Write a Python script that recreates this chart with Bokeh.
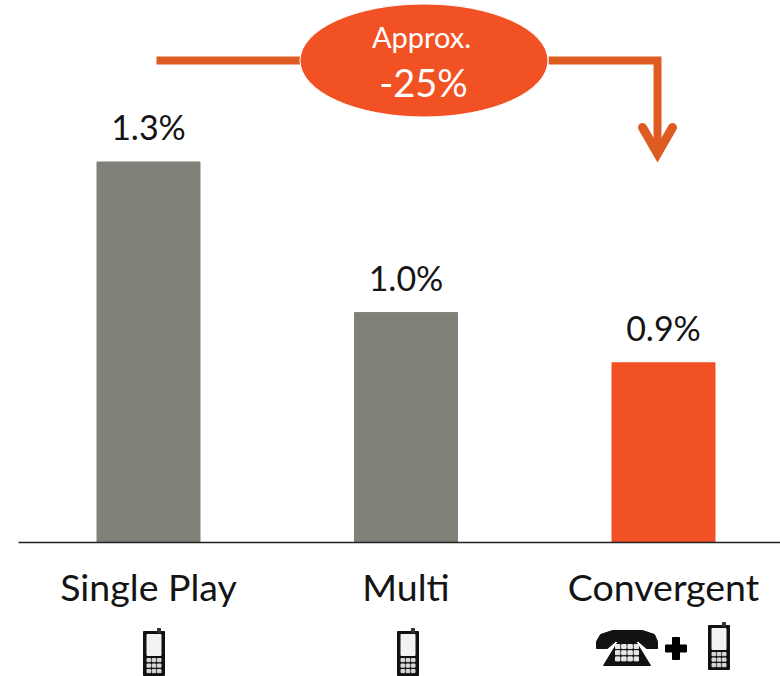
from bokeh.embed import file_html
from bokeh.resources import INLINE
from bokeh.plotting import figure
from bokeh.models import Range1d, ColumnDataSource
from bokeh.core.properties import value

# Series shown in the chart
categories = ["Single Play", "Multi", "Convergent"]
rates = [1.3, 1.0, 0.9]
rate_labels = ["1.3%", "1.0%", "0.9%"]
bar_colors = ["#808279", "#808279", "#F15123"]

FONT = value("Lato")
ORANGE = "#F15123"
LINE_ORANGE = "#DE5C22"
INK = "#141414"

W, H = 780, 676
BASE_PX = 542          # baseline row on the page
UNIT_X = 257.5         # pixels between neighbouring bars
FIRST_X = 148          # centre of the first bar
UNIT_Y = 502           # pixels per percentage point
BASE_VALUE = 0.542     # value sitting on the baseline (the bars use a truncated scale)

p = figure(
    width=W, height=H, output_backend="svg", toolbar_location=None,
    x_range=Range1d(-FIRST_X / UNIT_X, (W - FIRST_X) / UNIT_X),
    y_range=Range1d(BASE_VALUE - (H - BASE_PX) / UNIT_Y, BASE_VALUE + BASE_PX / UNIT_Y),
    min_border=0, min_border_left=0, min_border_right=0, min_border_top=0, min_border_bottom=0,
    x_axis_type=None, y_axis_type=None, outline_line_color=None,
)
p.grid.visible = False
p.background_fill_color = "white"

# Page-pixel scales for the decoration layer
p.extra_x_ranges["px"] = Range1d(0, W)
p.extra_y_ranges["px"] = Range1d(H, 0)
PX = dict(x_range_name="px", y_range_name="px")

xs = list(range(len(categories)))
src = ColumnDataSource(dict(x=xs, rate=rates, color=bar_colors, label=rate_labels, cat=categories,
                            base=[BASE_VALUE] * 3))

p.vbar(x="x", top="rate", bottom="base", width=103 / UNIT_X, color="color", source=src)
p.text(x="x", y="rate", text="label", source=src, text_font=FONT, text_font_size="34px",
       text_color=INK, text_align="center", text_baseline="middle", y_offset=-35)
p.text(x="x", y=BASE_VALUE, text="cat", source=src, text_font=FONT, text_font_size="37.5px",
       text_color=INK, text_align="center", text_baseline="middle", y_offset=44)

# Baseline
p.segment(18, BASE_PX, W, BASE_PX, line_color="#222222", line_width=1.3, **PX)

# Bracket with the arrow pointing at the convergent bar
p.line([156, 300], [60, 60], line_color=LINE_ORANGE, line_width=8, **PX)
p.line([548, 657, 657], [60, 60, 150], line_color=LINE_ORANGE, line_width=8, line_join="miter", **PX)
p.line([642, 657, 672], [127, 153, 127], line_color=LINE_ORANGE, line_width=9,
       line_cap="round", line_join="miter", **PX)

p.ellipse([423.5], [60], width=248, height=113, fill_color=ORANGE, line_color="white", line_width=1, **PX)
p.text([421], [36], text=["Approx."], text_font=FONT, text_font_size="29px", text_color="white",
       text_align="center", text_baseline="middle", **PX)
p.text([423], [81], text=["-25%"], text_font=FONT, text_font_size="38px", text_color="white",
       text_align="center", text_baseline="middle", **PX)


def handset(left, top):
    """Small mobile handset icon: body, screen and a 3x3 keypad."""
    p.quad(left=[left], right=[left + 21], top=[top + 3], bottom=[top + 47], color="#111111", **PX)
    p.quad(left=[left + 14], right=[left + 17], top=[top], bottom=[top + 4], color="#333333", **PX)
    p.quad(left=[left + 3.5], right=[left + 17.5], top=[top + 6], bottom=[top + 27], color="#F2F2F2", **PX)
    for row in range(3):
        for col in range(3):
            kx = left + 3.5 + col * 5.2
            ky = top + 30 + row * 5.5
            p.quad(left=[kx], right=[kx + 3.6], top=[ky], bottom=[ky + 3.2], color="#D8D8D8", **PX)


handset(143, 628)
handset(397, 628)
handset(708, 622)

# Desk telephone beside the plus sign
p.patch([596, 600, 612, 642, 654, 657, 657, 646, 638, 615, 607, 596],
        [641, 634, 630, 630, 634, 641, 648, 648, 641, 641, 648, 648], color="#111111", **PX)
p.patch([603, 617, 636, 650, 650, 603], [665, 642, 642, 665, 665, 665], color="#111111", **PX)
for row in range(3):
    for col in range(4):
        kx = 615 + col * 6.2
        ky = 644 + row * 6.2
        p.quad(left=[kx], right=[kx + 4.4], top=[ky], bottom=[ky + 4], color="#E8E8E8", **PX)

# Plus sign between the two handsets
p.quad(left=[665], right=[686], top=[644.5], bottom=[651.5], color="black", **PX)
p.quad(left=[672], right=[679], top=[637], bottom=[659], color="black", **PX)

open("out.html", "w").write(file_html(p, INLINE))
